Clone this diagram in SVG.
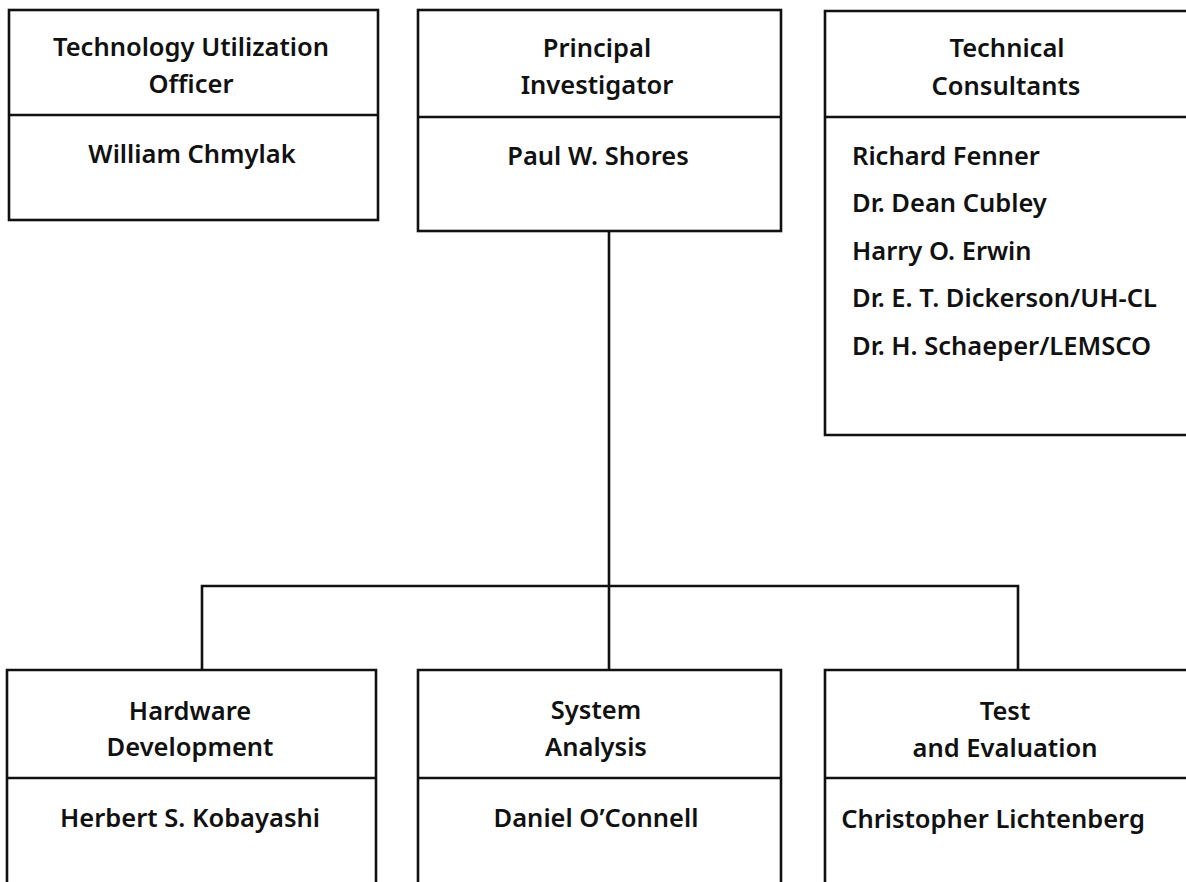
<svg xmlns="http://www.w3.org/2000/svg" width="1186" height="882" viewBox="0 0 1186 882">
<style>
.box{fill:none;stroke:#111;stroke-width:2.6}
.ln{fill:none;stroke:#111;stroke-width:2.6}
text{font-family:"Noto Sans","Liberation Sans",sans-serif;font-size:25.5px;fill:#111;font-weight:600}
.c{text-anchor:middle}
</style>
<rect width="1186" height="882" fill="#fff"/>
<g id="connectors">
<line class="ln" x1="609" y1="231" x2="609" y2="670"/>
<polyline class="ln" points="202,670 202,586 1018,586 1018,670"/>
</g>
<g id="tech-util">
<rect class="box" x="9" y="10" width="369" height="210"/>
<line class="ln" x1="9" y1="115" x2="378" y2="115"/>
<text class="c" x="191" y="56">Technology Utilization</text>
<text class="c" x="191" y="93">Officer</text>
<text class="c" x="192" y="163">William Chmylak</text>
</g>
<g id="principal">
<rect class="box" x="418" y="10" width="363" height="221"/>
<line class="ln" x1="418" y1="117" x2="781" y2="117"/>
<text class="c" x="597" y="57">Principal</text>
<text class="c" x="597" y="94">Investigator</text>
<text class="c" x="598" y="165">Paul W. Shores</text>
</g>
<g id="consultants">
<path class="box" d="M1190,11 H825 V435 H1190"/>
<line class="ln" x1="825" y1="117" x2="1190" y2="117"/>
<text class="c" x="1007" y="57">Technical</text>
<text class="c" x="1006" y="95">Consultants</text>
<text x="852" y="165">Richard Fenner</text>
<text x="852" y="212">Dr. Dean Cubley</text>
<text x="852" y="260">Harry O. Erwin</text>
<text x="852" y="307">Dr. E. T. Dickerson/UH-CL</text>
<text x="852" y="355">Dr. H. Schaeper/LEMSCO</text>
</g>
<g id="hardware">
<path class="box" d="M7,890 V670 H376 V890"/>
<line class="ln" x1="7" y1="778" x2="376" y2="778"/>
<text class="c" x="190" y="720">Hardware</text>
<text class="c" x="190" y="756">Development</text>
<text class="c" x="190" y="827">Herbert S. Kobayashi</text>
</g>
<g id="system">
<path class="box" d="M418,890 V670 H781 V890"/>
<line class="ln" x1="418" y1="778" x2="781" y2="778"/>
<text class="c" x="596" y="719">System</text>
<text class="c" x="596" y="756">Analysis</text>
<text class="c" x="596" y="827">Daniel O’Connell</text>
</g>
<g id="test">
<path class="box" d="M1190,670 H825 V890"/>
<line class="ln" x1="825" y1="778" x2="1190" y2="778"/>
<text class="c" x="1005" y="720">Test</text>
<text class="c" x="1005" y="757">and Evaluation</text>
<text class="c" x="993" y="828">Christopher Lichtenberg</text>
</g>
</svg>
